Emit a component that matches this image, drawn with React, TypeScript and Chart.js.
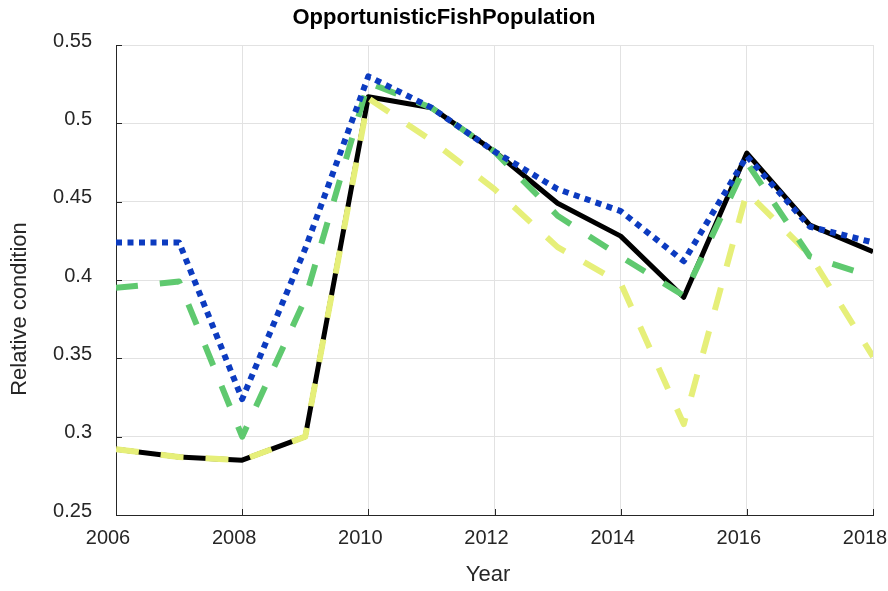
import React, { useEffect, useRef } from "react";
import { Chart, registerables } from "chart.js";

Chart.register(...registerables);

const TITLE = "OpportunisticFishPopulation";
const X_TITLE = "Year";
const Y_TITLE = "Relative condition";

const years = [2006, 2007, 2008, 2009, 2010, 2011, 2012, 2013, 2014, 2015, 2016, 2017, 2018];

const blackSeries = [0.292, 0.287, 0.285, 0.3, 0.517, 0.51, 0.482, 0.449, 0.428, 0.389, 0.481, 0.435, 0.418];
const yellowSeries = [0.292, 0.287, 0.285, 0.3, 0.516, 0.489, 0.458, 0.421, 0.398, 0.308, 0.456, 0.416, 0.351];
const greenSeries = [0.395, 0.399, 0.3, 0.388, 0.526, 0.51, 0.482, 0.441, 0.415, 0.39, 0.475, 0.415, 0.402];
const blueSeries = [0.424, 0.424, 0.324, 0.42, 0.53, 0.51, 0.482, 0.458, 0.444, 0.412, 0.479, 0.434, 0.424];

const FONT = "'Liberation Sans', Arial, Helvetica, sans-serif";
const TEXT = "#262626";

export default function App() {
  const ref = useRef<HTMLCanvasElement>(null);

  useEffect(() => {
    document.body.style.margin = "0";
    const canvas = ref.current;
    if (!canvas) return;
    const pts = (vals: number[]) => years.map((x, i) => ({ x, y: vals[i] }));

    const decor = {
      id: "decor",
      afterDraw(chart: any) {
        const { ctx, chartArea: a, scales } = chart;
        ctx.save();
        ctx.strokeStyle = TEXT;
        ctx.lineWidth = 1;
        // inward tick marks
        scales.x.ticks.forEach((t: any) => {
          const px = Math.round(scales.x.getPixelForValue(t.value)) + 0.5;
          ctx.beginPath();
          ctx.moveTo(px, a.bottom);
          ctx.lineTo(px, a.bottom - 6);
          ctx.stroke();
        });
        scales.y.ticks.forEach((t: any) => {
          const py = Math.round(scales.y.getPixelForValue(t.value)) + 0.5;
          ctx.beginPath();
          ctx.moveTo(a.left, py);
          ctx.lineTo(a.left + 6, py);
          ctx.stroke();
        });
        ctx.fillStyle = "#000";
        ctx.textAlign = "center";
        ctx.textBaseline = "middle";
        ctx.font = `bold 22px ${FONT}`;
        ctx.fillText(TITLE, 444, 18);
        ctx.fillStyle = TEXT;
        ctx.font = `22px ${FONT}`;
        ctx.fillText(X_TITLE, 488, 575);
        ctx.translate(20, 309);
        ctx.rotate(-Math.PI / 2);
        ctx.fillText(Y_TITLE, 0, 0);
        ctx.restore();
      },
    };

    const common = {
      pointRadius: 0,
      tension: 0,
      fill: false,
      borderCapStyle: "butt" as const,
      borderJoinStyle: "round" as const,
    };

    const chart = new Chart(canvas, {
      type: "line",
      data: {
        datasets: [
          { ...common, data: pts(blueSeries), borderColor: "#0c3bc0", borderWidth: 6, borderDash: [6, 5.5] },
          { ...common, data: pts(greenSeries), borderColor: "#5fc96f", borderWidth: 6, borderDash: [22, 22] },
          { ...common, data: pts(yellowSeries), borderColor: "#e6ef79", borderWidth: 6, borderDash: [23, 22] },
          { ...common, data: pts(blackSeries), borderColor: "#000000", borderWidth: 5 },
        ],
      },
      options: {
        animation: false,
        responsive: false,
        layout: { padding: { top: 45, right: 15, left: 0, bottom: 0 } },
        plugins: {
          legend: { display: false },
          title: { display: false },
          tooltip: { enabled: false },
        },
        scales: {
          x: {
            type: "linear",
            min: 2006,
            max: 2018,
            afterFit(s: any) {
              s.height = 76;
              s.paddingLeft = 0;
              s.paddingRight = 0;
            },
            ticks: {
              stepSize: 2,
              padding: 11,
              labelOffset: -8,
              color: TEXT,
              font: { family: FONT, size: 20 },
              maxRotation: 0,
              autoSkip: false,
              callback: (v: any) => String(v),
            },
            grid: { color: "#e2e2e2", lineWidth: 1, drawTicks: false },
            border: { color: TEXT, width: 1 },
          },
          y: {
            min: 0.25,
            max: 0.55,
            afterFit(s: any) {
              s.width = 116;
              s.paddingTop = 0;
              s.paddingBottom = 0;
            },
            ticks: {
              stepSize: 0.05,
              padding: 24,
              labelOffset: -4,
              color: TEXT,
              font: { family: FONT, size: 20 },
              callback: (v: any) => String(Number(Number(v).toFixed(2))),
            },
            grid: { color: "#e2e2e2", lineWidth: 1, drawTicks: false },
            border: { color: TEXT, width: 1 },
          },
        },
      },
      plugins: [decor],
    });
    return () => chart.destroy();
  }, []);

  return (
    <div style={{ position: "absolute", left: 0, top: 0, width: 888, height: 591, background: "#fff" }}>
      <canvas ref={ref} width={888} height={591} style={{ display: "block" }} />
    </div>
  );
}
